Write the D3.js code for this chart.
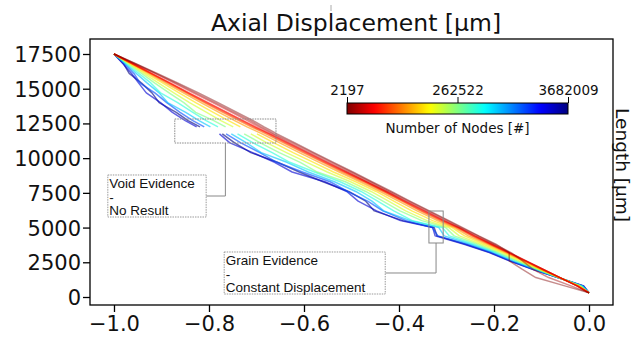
<!DOCTYPE html>
<html><head><meta charset="utf-8">
<script src="https://cdn.jsdelivr.net/npm/d3@7"></script>
<style>body{margin:0;background:#fff}svg{display:block}</style>
</head><body><svg id="c" width="635" height="338"></svg>
<script>
// ---- data ----
const lengths = [17500,16800,16100,15400,14700,14000,13300,12700,12250,12000,11750,11100,10400,9700,9000,8300,7600,6900,6200,5500,5000,4400,3800,3200,2600,2000,1400,800,300];
const nodeCounts = [2197,2900,4100,7300,11500,18000,30000,60000,120000,262522,420000,700000,1300000,2400000,3682009];
const disp2197 = [-1.000,-.954,-.909,-.865,-.822,-.781,-.741,-.707,-.684,-.670,-.657,-.619,-.579,-.538,-.497,-.457,-.416,-.377,-.336,-.295,-.266,-.232,-.196,-.168,-.168,-.141,-.112,-.051,0];
const disp2900 = [-1.000,-.955,-.912,-.869,-.828,-.787,-.747,-.713,-.690,-.676,-.663,-.624,-.583,-.542,-.501,-.460,-.420,-.380,-.339,-.298,-.269,-.234,-.199,-.164,-.140,-.118,-.085,-.038,0];
const disp4100 = [-1.000,-.957,-.914,-.873,-.833,-.792,-.752,-.719,-.695,-.681,-.667,-.630,-.589,-.548,-.507,-.466,-.425,-.385,-.344,-.303,-.273,-.239,-.203,-.167,-.132,-.097,-.061,-.026,0];
const disp7300 = [-1.000,-.960,-.921,-.881,-.842,-.802,-.762,-.728,-.702,-.687,-.672,-.634,-.593,-.552,-.511,-.469,-.427,-.388,-.347,-.306,-.274,-.241,-.205,-.169,-.133,-.097,-.061,-.025,0];
const disp11500 = [-1.000,-.961,-.922,-.883,-.845,-.806,-.766,-.732,-.706,-.690,-.675,-.638,-.597,-.556,-.514,-.471,-.430,-.391,-.351,-.309,-.276,-.244,-.207,-.170,-.134,-.098,-.061,-.025,0];
const disp18000 = [-1.000,-.962,-.924,-.886,-.848,-.810,-.771,-.737,-.711,-.695,-.680,-.643,-.602,-.560,-.519,-.475,-.433,-.394,-.355,-.313,-.279,-.247,-.209,-.172,-.136,-.099,-.062,-.024,0];
const disp30000 = [-1.000,-.963,-.927,-.891,-.854,-.817,-.779,-.746,-.720,-.704,-.688,-.651,-.610,-.568,-.526,-.482,-.440,-.401,-.362,-.319,-.283,-.254,-.213,-.175,-.138,-.101,-.062,-.023,0];
const disp60000 = [-1.000,-.966,-.932,-.897,-.863,-.828,-.791,-.759,-.734,null,-.699,-.663,-.623,-.580,-.538,-.491,-.448,-.411,-.373,-.329,-.288,-.262,-.220,-.179,-.142,-.103,-.063,-.021,0];
const disp120000 = [-1.000,-.968,-.937,-.906,-.874,-.841,-.805,-.775,-.749,null,-.712,-.678,-.637,-.594,-.551,-.502,-.459,-.422,-.386,-.341,-.295,-.273,-.227,-.184,-.147,-.106,-.063,-.020,0];
const disp262522 = [-1.000,-.971,-.942,-.914,-.884,-.853,-.828,-.790,-.765,null,-.726,-.692,-.652,-.608,-.572,-.513,-.470,-.434,-.398,-.352,-.302,-.284,-.234,-.190,-.151,-.108,-.064,-.018,0];
const disp420000 = [-1.000,-.974,-.948,-.922,-.902,-.866,-.834,-.806,-.781,null,-.740,-.707,-.667,-.630,-.578,-.524,-.480,-.445,-.411,-.372,-.309,-.294,-.242,-.195,-.155,-.111,-.064,-.016,0];
const disp700000 = [-1.000,-.976,-.953,-.930,-.905,-.887,-.849,-.821,-.797,null,-.753,-.721,-.690,-.636,-.591,-.536,-.491,-.457,-.432,-.376,-.316,-.305,-.249,-.200,-.160,-.114,-.065,-.014,0];
const disp1300000 = [-1.000,-.978,-.958,-.945,-.914,-.889,-.861,-.834,-.810,null,-.764,-.733,-.693,-.657,-.603,-.545,-.508,-.466,-.434,-.385,-.330,-.318,-.256,-.205,-.164,-.116,-.065,-.013,0];
const disp2400000 = [-1.000,-.981,-.963,-.948,-.932,-.902,-.877,-.850,-.826,null,-.778,-.756,-.708,-.662,-.625,-.556,-.510,-.486,-.447,-.397,-.329,-.324,-.263,-.210,-.168,-.119,-.066,-.011,0];
const disp3682009 = [-1.000,-.980,-.968,-.942,-.920,-.905,-.869,-.844,-.819,null,-.772,-.746,-.712,-.656,-.610,-.560,-.506,-.470,-.452,-.392,-.326,-.320,-.260,-.208,-.166,-.118,-.066,-.012,0];
const seriesValues = [disp2197,disp2900,disp4100,disp7300,disp11500,disp18000,disp30000,disp60000,disp120000,disp262522,disp420000,disp700000,disp1300000,disp2400000,disp3682009];

const xTicks = [-1.0,-0.8,-0.6,-0.4,-0.2,0.0];
const yTicks = [0,2500,5000,7500,10000,12500,15000,17500];
const cbarTicks = [2197,262522,3682009];
// annotation regions in data units: [x0, x1, y0, y1]
const voidRegion = [-0.872,-0.659,11090,12818];
const voidLabelBox = [-1.013,-0.806,5761,8786];
const voidLabel = ["Void Evidence","-","No Result"];
const grainRegion = [-0.337,-0.307,3889,6193];
const grainLabelBox = [-0.768,-0.429,216,3241];
const grainLabel = ["Grain Evidence","-","Constant Displacement"];

// ---- drawing ----
const svg = d3.select("#c");
const L = 90, R = 613, T = 39, B = 305;
const x = d3.scaleLinear().domain([-1.0505, 0.0505]).range([L, R]);
const y = d3.scaleLinear().domain([-576, 18580]).range([B, T]);
const jetR = d3.scaleLinear().domain([0,.125,.375,.625,.875,1])
  .range(["#800000","#ff0000","#ffff00","#00ffff","#0000ff","#000080"]).clamp(true);
const nodePos = d3.scaleLog().domain(cbarTicks).range([0,0.5,1]).clamp(true);
const AX_FONT = "DejaVu Sans, sans-serif";

svg.append("defs").append("clipPath").attr("id","clip")
  .append("rect").attr("x",L).attr("y",T).attr("width",R-L).attr("height",B-T);

// lines: high node counts first so low counts end on top
const line = d3.line().defined(d => d[0] != null).x(d => x(d[0])).y(d => y(d[1]));
const gLines = svg.append("g").attr("clip-path","url(#clip)");
for (let i = seriesValues.length - 1; i >= 0; i--) {
  const pts = seriesValues[i].map((v,j) => [v, lengths[j]]);
  gLines.append("path").attr("d", line(pts)).attr("fill","none")
    .attr("stroke", jetR(nodePos(nodeCounts[i])))
    .attr("stroke-width", 1.5)
    .attr("stroke-opacity", i < 3 ? 0.45 : 0.62)
    .attr("stroke-linejoin","round");
}

// axes
const gx = svg.append("g").attr("transform",`translate(0,${B})`)
  .call(d3.axisBottom(x).tickValues(xTicks).tickFormat(d3.format(".1f")).tickSize(7).tickPadding(4));
const gy = svg.append("g").attr("transform",`translate(${L},0)`)
  .call(d3.axisLeft(y).tickValues(yTicks).tickFormat(d3.format("d")).tickSize(7).tickPadding(2));
[gx,gy].forEach(g => {
  g.select(".domain").remove();
  g.selectAll(".tick line").attr("stroke","#000").attr("stroke-width",1.3);
  g.selectAll(".tick text").attr("fill","#111").style("font-family",AX_FONT).style("font-size","21px");
});
gy.selectAll(".tick text").attr("dy","0.36em");

// frame
svg.append("rect").attr("x",L).attr("y",T).attr("width",R-L).attr("height",B-T)
  .attr("fill","none").attr("stroke","#000").attr("stroke-width",1.3);

// titles
svg.append("text").attr("x",356).attr("y",31).attr("text-anchor","middle")
  .style("font-family",AX_FONT).style("font-size","23.5px").attr("fill","#111")
  .text("Axial Displacement [µm]");
svg.append("text").attr("transform",`translate(616,165) rotate(90)`)
  .attr("text-anchor","middle").style("font-family",AX_FONT).style("font-size","18.5px").attr("fill","#111")
  .text("Length [µm]");
svg.append("line").attr("x1",331).attr("x2",331).attr("y1",5).attr("y2",11)
  .attr("stroke","#aaa").attr("stroke-width",1);

// colorbar
const cx = d3.scaleLinear().domain([0,1]).range([347,568]);
const grad = svg.select("defs").append("linearGradient").attr("id","cb");
d3.range(0,1.0001,0.02).forEach(t => grad.append("stop").attr("offset",t).attr("stop-color",jetR(t)));
svg.append("rect").attr("x",cx(0)).attr("y",103).attr("width",cx(1)-cx(0)).attr("height",11)
  .attr("fill","url(#cb)").attr("stroke","#000").attr("stroke-width",1);
const gcb = svg.append("g").attr("transform","translate(0,103)")
  .call(d3.axisTop(cx)
    .tickValues(cbarTicks.map(v => nodePos(v))).tickFormat((d,i) => cbarTicks[i]).tickSize(6).tickPadding(2));
gcb.select(".domain").remove();
gcb.selectAll(".tick line").attr("stroke","#000").attr("stroke-width",1);
gcb.selectAll(".tick text").attr("fill","#111").style("font-family",AX_FONT).style("font-size","13.5px");
svg.append("text").attr("x",cx(0.5)).attr("y",133).attr("text-anchor","middle")
  .style("font-family",AX_FONT).style("font-size","13.5px").attr("fill","#111")
  .text("Number of Nodes [#]");

// annotations
function rectOf(r){ return {x:x(r[0]), y:y(r[3]), w:x(r[1])-x(r[0]), h:y(r[2])-y(r[3])}; }
function annot(region, box, lines, dashedRegion){
  const a = rectOf(region), b = rectOf(box);
  svg.append("rect").attr("x",a.x).attr("y",a.y).attr("width",a.w).attr("height",a.h)
    .attr("fill","none").attr("stroke","#888").attr("stroke-width",1)
    .attr("stroke-dasharray", dashedRegion ? "1.5,1" : null);
  const midX = a.x + a.w/2, midY = b.y + b.h/2;
  svg.append("path").attr("d",`M${b.x+b.w},${midY}H${midX}V${a.y+a.h}`)
    .attr("fill","none").attr("stroke","#888").attr("stroke-width",1);
  svg.append("rect").attr("x",b.x).attr("y",b.y).attr("width",b.w).attr("height",b.h)
    .attr("fill","#fff").attr("stroke","#999").attr("stroke-width",1).attr("stroke-dasharray","1.5,1");
  const t = svg.append("text").style("font-family","Liberation Sans, Arial, sans-serif")
    .style("font-size","13.5px").attr("fill","#111");
  lines.forEach((s,i) => t.append("tspan").attr("x",b.x+1.5).attr("y",b.y+13+i*13.6).text(s));
}
annot(voidRegion, voidLabelBox, voidLabel, true);
annot(grainRegion, grainLabelBox, grainLabel, false);
</script></body></html>
